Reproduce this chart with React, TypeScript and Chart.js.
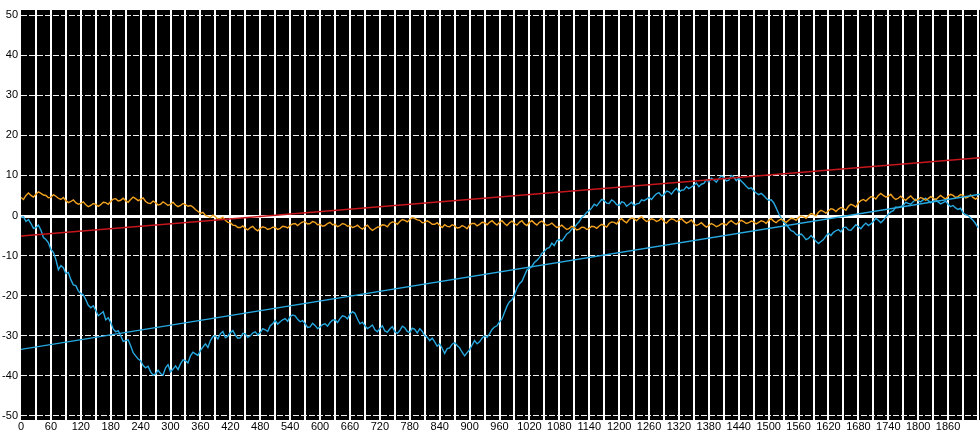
import React, { useEffect, useRef } from "react";
import { Chart, registerables } from "chart.js";

Chart.register(...registerables);

// sample grid of the recorded series (x step 5)
const X_START = 0;
const X_STEP = 5;

const blueSeries: number[] = [
  -0.5, -0.3, -1.5, -1, -2, -3.2, -3, -2.4, -3.7, -5.5,
  -6, -6.8, -8.5, -9.2, -11, -13.5, -12.5, -13, -14.5, -14.2,
  -16, -17.3, -17.5, -18.8, -19.5, -19.8, -21, -22.4, -23, -22.5,
  -23.7, -25, -24.5, -24, -26, -25.5, -26.7, -28.3, -29, -28.7,
  -30, -31.4, -31.2, -31, -32.5, -34.2, -35, -35.8, -36.2, -37.4,
  -38, -37.6, -39, -39.8, -39.5, -38.6, -39.4, -39.8, -38, -37.2,
  -39, -38.3, -37.5, -38.4, -37, -36, -36.2, -36.8, -35, -34.1,
  -34.5, -34.9, -33.7, -32.8, -32, -32.9, -31.2, -30.2, -30, -30.8,
  -29.5, -28.9, -30.5, -30.1, -29.2, -28.7, -29.8, -30.6, -30.5, -29.4,
  -29.5, -30.4, -30, -29.3, -29, -29.8, -29.2, -28.2, -28.5, -28.9,
  -27.5, -27, -26.2, -27.1, -26.5, -26, -25.7, -26.4, -25.2, -24.8,
  -25, -25.9, -26.5, -26.2, -27, -27.9, -27.8, -26.9, -27.4, -28.2,
  -27.8, -27.2, -27, -27.6, -26.7, -26.1, -26, -26.7, -25.7, -25,
  -25.2, -25.8, -24.6, -24, -24.4, -25.8, -27, -26.6, -27.5, -28.2,
  -27.8, -27.3, -28.5, -29, -28.2, -27.5, -28.8, -29.1, -28.3, -27.7,
  -29, -29.4, -28.7, -27.6, -28, -28.9, -29.2, -28.1, -28.4, -29.3,
  -28.2, -28.9, -30, -30.4, -31.2, -30.6, -31.5, -32.6, -32, -33.1,
  -34.4, -33.2, -33, -32.1, -31.7, -32.4, -33, -34.1, -35, -34.2,
  -33.5, -32.3, -31.2, -32, -31.5, -30.6, -30, -30.4, -29.5, -28.4,
  -27.8, -27.5, -26.5, -25.8, -24.2, -22.6, -21.5, -21, -19.8, -18.1,
  -17, -16.4, -15, -13.6, -13.2, -12.7, -11.7, -11.2, -10.5, -9.4,
  -9, -8.2, -8, -6.9, -7.5, -6.3, -6, -6.4, -5.5, -4.6,
  -4.2, -3.4, -3, -2.2, -1.5, -0.5, 0, 0.8, 1.2, 1.9,
  2.8, 2.4, 3.2, 4, 3.7, 3.1, 3, 3.9, 3.5, 2.7,
  2.5, 3.4, 3.2, 2.3, 2.8, 3.3, 2.5, 2.9, 3, 3.9,
  3.7, 4.1, 4.5, 4, 4.8, 5.4, 5.7, 4.9, 5.2, 6.1,
  5.9, 5.3, 6.2, 6.8, 5.8, 6.3, 6.4, 7.2, 6.7, 7.1,
  7.5, 8.1, 7.2, 7.8, 8, 8.9, 8.4, 9.3, 8.9, 8.3,
  9.2, 9.9, 9.5, 8.6, 8.8, 10, 9.6, 8.7, 9.3, 8.6,
  8, 7.3, 6.7, 6.9, 6.2, 5.6, 5.2, 5.5, 5, 4.3,
  3.8, 3.9, 3.2, 1.9, 0.5, -0.6, -1.7, -2.2, -3, -3.8,
  -4, -4.7, -5, -4.6, -5.2, -6, -5.7, -5, -5.7, -6.4,
  -7, -6.5, -6, -5.1, -4.5, -5, -4.2, -3.8, -3.5, -4.1,
  -3, -2.9, -3.6, -3.7, -3, -2.3, -2.8, -3.3, -2.5, -1.9,
  -2.5, -2.1, -1.5, -0.7, -1.2, -1.8, -1.2, -0.4, 0.3, 0.9,
  1.2, 2.1, 2, 2.2, 2.5, 3.3, 3, 2.8, 3.4, 4.1,
  3.7, 3.4, 3.9, 4.3, 3.7, 3.2, 3.5, 4.1, 3.4, 2.9,
  3.2, 3.6, 2.8, 2.2, 2.5, 1.9, 1.5, 1.8, 0.7, 0.2,
  0, -0.6, -1.2, -2, -3,
];

const orangeSeries: number[] = [
  4.5, 4, 5, 5.6, 5, 4.6, 5.3, 5.9, 5.5, 5.1,
  5, 4.4, 4.5, 5.2, 4.8, 4.3, 4, 4.5, 3.7, 3.2,
  3.5, 3.9, 3.2, 2.8, 3, 3.4, 2.7, 2.2, 2.5, 3,
  2.8, 2.3, 2.7, 3.3, 3.2, 2.8, 3.5, 4.1, 4.2, 3.6,
  3.8, 4.3, 3.7, 3.3, 4, 4.6, 4.2, 3.7, 4, 4.4,
  3.5, 3.1, 3, 3.6, 3.2, 2.6, 2.8, 3.4, 3, 2.5,
  2.8, 3.3, 2.6, 2.2, 2.5, 3, 2.7, 2.3, 2.5, 2.1,
  1.5, 1, 0.5, 0.8, 0, -0.2, -0.5, 0.1, -0.3, -0.9,
  -0.8, -0.4, -1.2, -1.7, -1.8, -2.4, -2.5, -3, -3, -2.6,
  -3.2, -3.6, -3, -2.7, -3.4, -3.8, -3.2, -2.8, -3, -3.5,
  -3.3, -2.9, -3, -3.5, -3.2, -2.7, -2.8, -3.1, -2.5, -2.1,
  -2, -2.5, -2, -1.6, -1.6, -2.1, -2, -1.5, -1.7, -2.3,
  -2.2, -2.7, -2.5, -2, -1.7, -2.3, -2.2, -2.8, -2.5, -2,
  -2.2, -2.7, -2.5, -3, -2.8, -2.4, -3, -3.4, -2.8, -2.4,
  -3.2, -3.7, -3.3, -2.9, -2.8, -2.3, -2.4, -2.8, -2, -1.6,
  -1.7, -2.2, -1.5, -1, -1.2, -1.6, -1, -0.5, -0.7, -1.1,
  -1.2, -1.8, -1.7, -1.3, -1.7, -2.2, -2.2, -1.8, -2.5, -3,
  -2.3, -2.7, -2.8, -2.3, -2.6, -3.1, -3, -2.5, -2.8, -3.3,
  -2.4, -2, -2, -2.6, -2.2, -1.7, -1.8, -2.3, -1.7, -1.3,
  -1.9, -2.4, -1.7, -1.3, -2, -2.5, -1.8, -1.4, -2, -2.4,
  -1.7, -1.3, -2.1, -2.5, -1.7, -1.3, -1.9, -2.4, -1.7, -1.4,
  -2, -2.5, -2.3, -1.9, -2.5, -3, -2.8, -2.4, -3, -3.5,
  -3.2, -2.7, -3, -3.6, -3.4, -2.9, -3, -3.5, -3.2, -2.7,
  -2.8, -3.2, -2.6, -2.2, -2.5, -2.9, -2, -1.6, -1.7, -2.1,
  -1.2, -0.8, -1.4, -1.8, -1, -0.6, -0.8, -1.3, -0.7, -0.3,
  -1, -1.5, -1.2, -0.8, -1, -1.5, -1.2, -0.7, -1.5, -1.9,
  -1.2, -0.8, -1, -1.5, -1.2, -0.8, -1.4, -1.9, -1.6, -1.1,
  -2, -2.5, -2.2, -1.8, -2.4, -2.9, -2.5, -2, -2.3, -2.8,
  -2.5, -2.1, -2, -2.4, -1.7, -1.3, -1.8, -2.2, -1.7, -1.2,
  -1.5, -2, -1.8, -1.4, -1.6, -2.1, -1.7, -1.3, -1.5, -2,
  -1.2, -0.8, -1.4, -1.8, -1.2, -0.9, -1.3, -1.7, -1.2, -0.7,
  -0.8, -1.2, -0.5, -0.1, -0.3, -0.7, 0, 0.5, 0.3, -0.1,
  0.8, 1.3, 1, 0.6, 1.2, 1.7, 1.5, 1, 1.6, 2,
  1.7, 1.3, 2.3, 2.8, 2.5, 2.1, 3.2, 3.7, 4, 3.6,
  4.2, 4.7, 4.6, 4.1, 5, 5.5, 5, 4.6, 4.8, 5.3,
  4.5, 4, 4.3, 4.8, 4.2, 3.8, 4.4, 4.9, 4.2, 3.7,
  4, 4.5, 4.2, 3.8, 4.2, 4.7, 4.4, 3.9, 4.5, 5,
  4.5, 4.1, 4.8, 5.3, 5, 4.5, 4.7, 5.2, 5, 4.4,
  4.6, 5.1, 4.5, 4.1, 4.5,
];

// trend lines: end points
const redTrendX = [0, 1924];
const redTrendY = [-5.1, 14.4];
const blueTrendX = [0, 1924];
const blueTrendY = [-33.4, 5.3];

const X_MIN = 0;
const X_MAX = 1924;
const X_GRID_STEP = 30;
const X_LABEL_STEP = 60;
const X_LAST_LABEL = 1860;
const Y_MIN = -51;
const Y_MAX = 51.25;
const Y_TICKS = [-50, -40, -30, -20, -10, 0, 10, 20, 30, 40, 50];

const BLUE = "#27a9e1";
const ORANGE = "#f2a21e";
const RED = "#c8161d";

export default function App() {
  const ref = useRef<HTMLCanvasElement | null>(null);

  useEffect(() => {
    document.body.style.margin = "0";
    const canvas = ref.current;
    if (!canvas) return;

    const toPts = (arr: number[]) =>
      arr.map((v, i) => ({ x: X_START + i * X_STEP, y: v }));
    const pair = (xs: number[], ys: number[]) =>
      xs.map((x, i) => ({ x, y: ys[i] }));

    const bgPlugin = {
      id: "bg",
      beforeDraw(chart: any) {
        const { ctx, chartArea } = chart;
        ctx.save();
        ctx.fillStyle = "#000";
        ctx.fillRect(
          chartArea.left,
          chartArea.top,
          chartArea.right - chartArea.left,
          chartArea.bottom - chartArea.top
        );
        ctx.restore();
      },
      beforeDatasetsDraw(chart: any) {
        const { ctx, chartArea, scales } = chart;
        const y0 = Math.round(scales.y.getPixelForValue(0));
        ctx.save();
        ctx.strokeStyle = "#ffffff";
        ctx.lineWidth = 3;
        ctx.beginPath();
        ctx.moveTo(chartArea.left, y0 + 0.5);
        ctx.lineTo(chartArea.right, y0 + 0.5);
        ctx.stroke();
        ctx.restore();
      },
    };

    const chart = new Chart(canvas, {
      type: "line",
      data: {
        datasets: [
          {
            label: "red trend",
            data: pair(redTrendX, redTrendY),
            borderColor: RED,
            borderWidth: 1.5,
            pointRadius: 0,
            tension: 0,
          },
          {
            label: "blue trend",
            data: pair(blueTrendX, blueTrendY),
            borderColor: BLUE,
            borderWidth: 1.3,
            pointRadius: 0,
            tension: 0,
          },
          {
            label: "orange",
            data: toPts(orangeSeries),
            borderColor: ORANGE,
            borderWidth: 1.4,
            pointRadius: 0,
            tension: 0,
          },
          {
            label: "blue",
            data: toPts(blueSeries),
            borderColor: BLUE,
            borderWidth: 1.4,
            pointRadius: 0,
            tension: 0,
          },
        ],
      },
      options: {
        responsive: false,
        animation: false,
        events: [],
        layout: { padding: { top: 10, right: 0, left: 0, bottom: 0 } },
        plugins: {
          legend: { display: false },
          tooltip: { enabled: false },
        },
        scales: {
          x: {
            type: "linear",
            min: X_MIN,
            max: X_MAX,
            afterBuildTicks(scale: any) {
              const t = [];
              for (let v = X_MIN; v <= X_MAX; v += X_GRID_STEP) t.push({ value: v });
              scale.ticks = t;
            },
            afterFit(scale: any) {
              scale.height = 10;
            },
            grid: {
              color: (c: any) =>
                c.tick && c.tick.value === X_MIN ? "rgba(0,0,0,0)" : "#ffffff",
              lineWidth: 2,
              drawTicks: false,
            },
            border: { display: false },
            ticks: {
              autoSkip: false,
              maxRotation: 0,
              minRotation: 0,
              padding: 0,
              color: "#000",
              font: { family: "'Liberation Sans', Arial, sans-serif", size: 11 },
              callback: (v: any) => {
                const n = Number(v);
                return n % X_LABEL_STEP === 0 && n <= X_LAST_LABEL ? String(n) : "";
              },
            },
          },
          y: {
            type: "linear",
            min: Y_MIN,
            max: Y_MAX,
            afterBuildTicks(scale: any) {
              scale.ticks = Y_TICKS.map((v) => ({ value: v }));
            },
            afterFit(scale: any) {
              scale.width = 21;
            },
            grid: {
              color: (c: any) =>
                c.tick && c.tick.value === 0 ? "rgba(0,0,0,0)" : "#f0f0f0",
              lineWidth: 1,
              drawTicks: false,
            },
            border: { display: false, dash: [6, 2] },
            ticks: {
              padding: 3,
              color: "#000",
              font: { family: "'Liberation Sans', Arial, sans-serif", size: 11 },
            },
          },
        },
      },
      plugins: [bgPlugin],
    } as any);

    return () => chart.destroy();
  }, []);

  return (
    <div style={{ position: "absolute", left: 0, top: 0, width: 980, height: 430 }}>
      <canvas ref={ref} width={980} height={430} style={{ display: "block" }} />
    </div>
  );
}
